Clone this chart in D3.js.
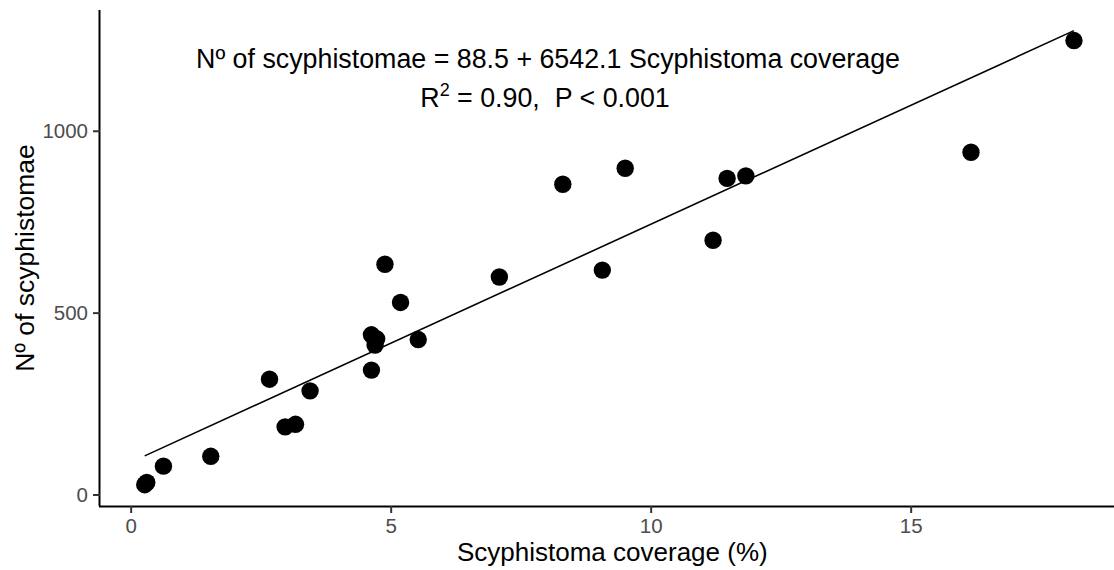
<!DOCTYPE html>
<html>
<head>
<meta charset="utf-8">
<script src="https://cdn.jsdelivr.net/npm/d3@7"></script>
<style>
  html, body { margin: 0; padding: 0; background: #ffffff; }
  svg { display: block; font-family: "Liberation Sans", Arial, sans-serif; }
</style>
</head>
<body>
<svg id="chart" width="1114" height="570"></svg>
<script>
// ---- data ----
const coverage = [0.27, 0.31, 0.63, 1.54, 2.67, 2.97, 3.17, 3.45, 4.63, 4.63, 4.73, 4.70, 5.53, 5.19, 4.89, 7.09, 8.31, 9.51, 9.07, 11.20, 11.47, 11.83, 16.16, 18.14];
const scyphistomae = [27, 33, 78, 105, 317, 186, 193, 285, 342, 439, 428, 411, 426, 528, 633, 598, 853, 897, 617, 699, 869, 876, 941, 1248];
const intercept = 88.5;
const slopePerPercent = 65.421;
const xTicks = [0, 5, 10, 15];
const yTicks = [0, 500, 1000];
const xTitle = "Scyphistoma coverage (%)";
const yTitle = "Nº of scyphistomae";
const eqLine1 = "Nº of scyphistomae = 88.5 + 6542.1 Scyphistoma coverage";

(function () {
// ---- layout ----
const mLeft = 100, mRight = 1114, mTop = 10, mBottom = 506;

const svg = d3.select("#chart");
const x = d3.scaleLinear().domain([-0.59, 18.91]).range([mLeft, mRight]);
const y = d3.scaleLinear().domain([-31.6, 1332]).range([mBottom, mTop]);

// regression line over data range
const [xmin, xmax] = d3.extent(coverage);
const fit = [xmin, xmax].map(v => [v, intercept + slopePerPercent * v]);
svg.append("path")
  .datum(fit)
  .attr("fill", "none")
  .attr("stroke", "#000")
  .attr("stroke-width", 1.6)
  .attr("d", d3.line().x(d => x(d[0])).y(d => y(d[1])));

// points
svg.append("g").selectAll("circle")
  .data(coverage.map((c, i) => [c, scyphistomae[i]]))
  .join("circle")
  .attr("cx", d => x(d[0]))
  .attr("cy", d => y(d[1]))
  .attr("r", 8.7)
  .attr("fill", "#000");

// axes
const xAxis = svg.append("g")
  .attr("transform", `translate(0,${mBottom})`)
  .call(d3.axisBottom(x).tickValues(xTicks).tickSize(7).tickPadding(5).tickFormat(d3.format("d")));
const yAxis = svg.append("g")
  .attr("transform", `translate(${mLeft},0)`)
  .call(d3.axisLeft(y).tickValues(yTicks).tickSize(7).tickPadding(5).tickFormat(d3.format("d")));

[xAxis, yAxis].forEach(g => {
  g.select(".domain").attr("stroke", "#000").attr("stroke-width", 2);
  g.selectAll(".tick line").attr("stroke", "#333").attr("stroke-width", 2);
  g.selectAll(".tick text")
    .attr("fill", "#4d4d4d")
    .style("font-size", "20.5px")
    .style("font-family", "'Liberation Sans', Arial, sans-serif");
});
xAxis.select(".domain").attr("d", `M${mLeft - 1},0.5H${mRight}`);
yAxis.select(".domain").attr("d", `M-0.5,${mTop}V${mBottom}`);

// axis titles
svg.append("text")
  .attr("x", (x(xTicks[0]) + mRight) / 2 - 10)
  .attr("y", 561)
  .attr("text-anchor", "middle")
  .attr("fill", "#000")
  .style("font-size", "26px")
  .text(xTitle);

svg.append("text")
  .attr("transform", `translate(34,${(mTop + mBottom) / 2}) rotate(-90)`)
  .attr("text-anchor", "middle")
  .attr("fill", "#000")
  .style("font-size", "26.5px")
  .text(yTitle);

// equation annotation
svg.append("text")
  .attr("x", 548)
  .attr("y", 68)
  .attr("text-anchor", "middle")
  .attr("fill", "#000")
  .style("font-size", "26.8px")
  .text(eqLine1);

const l2 = svg.append("text")
  .attr("x", 545)
  .attr("y", 107)
  .attr("text-anchor", "middle")
  .attr("fill", "#000")
  .style("white-space", "pre")
  .style("font-size", "26.8px");
l2.append("tspan").text("R");
l2.append("tspan").attr("dy", -11).style("font-size", "18px").text("2");
l2.append("tspan").attr("dy", 11).text(" = 0.90,  P < 0.001");
})();
</script>
</body>
</html>
